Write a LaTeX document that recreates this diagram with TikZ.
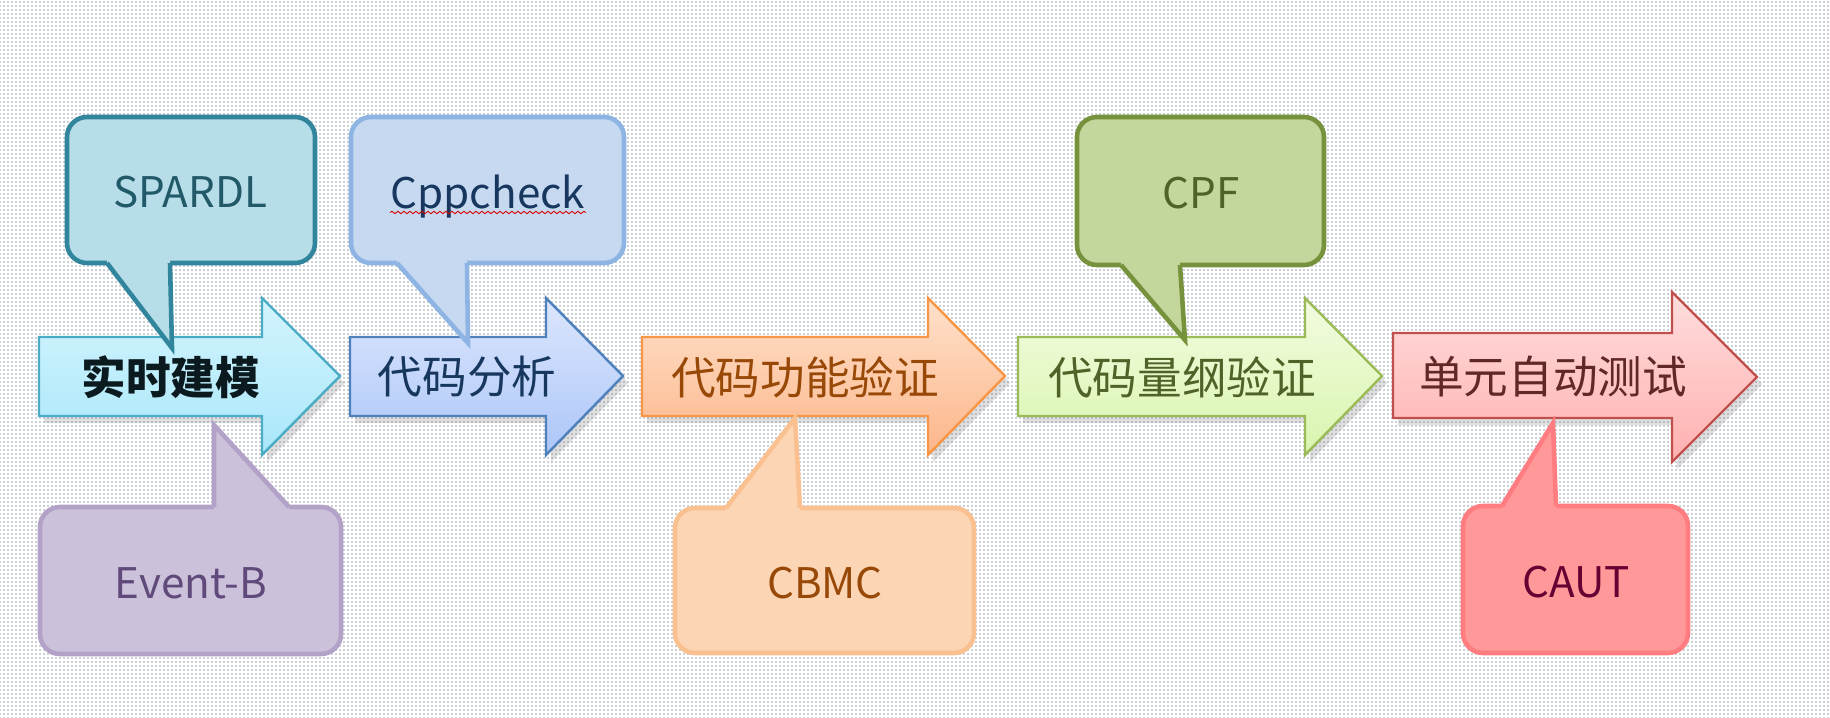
\documentclass[tikz,border=0pt]{standalone}
\usepackage{fontspec}
\setmainfont{Noto Sans CJK SC}
\usetikzlibrary{patterns.meta,shadows,decorations.pathmorphing}
% arrow colours
\definecolor{cyanA}{HTML}{D3F4FD}\definecolor{cyanB}{HTML}{A9E7FA}\definecolor{cyanD}{HTML}{4BACC6}
\definecolor{blueA}{HTML}{DCE6FD}\definecolor{blueB}{HTML}{ACC6F8}\definecolor{blueD}{HTML}{4F81BD}
\definecolor{orgA}{HTML}{FEE1CB}\definecolor{orgB}{HTML}{FDB68A}\definecolor{orgD}{HTML}{F79646}
\definecolor{grnA}{HTML}{F3FCE0}\definecolor{grnB}{HTML}{D8F5AE}\definecolor{grnD}{HTML}{9BBB59}
\definecolor{redA}{HTML}{FFDDDD}\definecolor{redB}{HTML}{FFB0B0}\definecolor{redD}{HTML}{C0504D}
% bubble colours
\definecolor{spaF}{HTML}{B7DDE8}\definecolor{spaD}{HTML}{31859C}\definecolor{spaT}{HTML}{215968}
\definecolor{cppF}{HTML}{C6D9F1}\definecolor{cppD}{HTML}{8EB4E3}\definecolor{cppT}{HTML}{17375E}
\definecolor{cpfF}{HTML}{C3D69B}\definecolor{cpfD}{HTML}{76923C}\definecolor{cpfT}{HTML}{4F6228}
\definecolor{evbF}{HTML}{CCC1DA}\definecolor{evbD}{HTML}{B3A2C7}\definecolor{evbT}{HTML}{604A7B}
\definecolor{cbmF}{HTML}{FCD5B5}\definecolor{cbmD}{HTML}{FAC090}\definecolor{cbmT}{HTML}{984807}
\definecolor{cauF}{HTML}{FF9898}\definecolor{cauD}{HTML}{FF7C80}\definecolor{cauT}{HTML}{660033}
\definecolor{dotc}{HTML}{1F3050}

\begin{document}
\begin{tikzpicture}[x=0.1mm,y=-0.1mm]
	\tikzstyle{stage}=[line width=0.7pt, drop shadow={opacity=0.25, shadow xshift=0.5mm, shadow yshift=-0.7mm}]
	\tikzstyle{bubble}=[line width=1.3pt, rounded corners=2mm]
	\tikzstyle{tail}=[line width=1.3pt, line join=miter]
	\tikzstyle{stagetext}=[inner sep=0pt, font=\fontsize{12.7}{15}\selectfont]
	\tikzstyle{tooltext}=[inner sep=0pt, anchor=base, font=\fontsize{12}{14}\selectfont]
	% dotted background
	\fill[white] (0,0) rectangle (1830,718);
	\fill[pattern={Dots[distance=0.4mm, radius=0.06mm]}, pattern color=dotc] (0,0) rectangle (1830,718);
	\useasboundingbox (0,0) rectangle (1830,718);

	% the five stages
	\shadedraw[stage, top color=cyanA, bottom color=cyanB, draw=cyanD]
	(39,337) -- (262,337) -- (262,298) -- (340,376) -- (262,455) -- (262,416) -- (39,416) -- cycle;
	\shadedraw[stage, top color=blueA, bottom color=blueB, draw=blueD]
	(350,337) -- (546,337) -- (546,298) -- (623,376) -- (546,455) -- (546,416) -- (350,416) -- cycle;
	\shadedraw[stage, top color=orgA, bottom color=orgB, draw=orgD]
	(642,337) -- (928,337) -- (928,298) -- (1005,376) -- (928,455) -- (928,416) -- (642,416) -- cycle;
	\shadedraw[stage, top color=grnA, bottom color=grnB, draw=grnD]
	(1018,337) -- (1305,337) -- (1305,298) -- (1382,376) -- (1305,455) -- (1305,416) -- (1018,416) -- cycle;
	\shadedraw[stage, top color=redA, bottom color=redB, draw=redD]
	(1393,333) -- (1672,333) -- (1672,292) -- (1757,377) -- (1672,462) -- (1672,418) -- (1393,418) -- cycle;

	\node[stagetext, text=black!85!cyanD, font=\fontsize{12.7}{15}\selectfont\bfseries] (model) at (171,377) {实时建模};
	\node[stagetext, text=cppT] (anal) at (467,377) {代码分析};
	\node[stagetext, text=cbmT] (func) at (805,377) {代码功能验证};
	\node[stagetext, text=cpfT] (dim) at (1182,377) {代码量纲验证};
	\node[stagetext, text=redD!50!black] (unit) at (1553,377) {单元自动测试};

	% tool bubbles above: box, then tail over the box border
	\draw[bubble, fill=spaF, draw=spaD] (67,117) rectangle (315,263);
	\fill[spaF] (107,257) -- (107,263) -- (172,348) -- (170,263) -- (170,257) -- cycle;
	\draw[tail, draw=spaD] (107,263) -- (172,348) -- (170,263);
	\draw[bubble, fill=cppF, draw=cppD] (351,117) rectangle (624,263);
	\fill[cppF] (397,257) -- (397,263) -- (468,343) -- (467,263) -- (467,257) -- cycle;
	\draw[tail, draw=cppD] (397,263) -- (468,343) -- (467,263);
	\draw[bubble, fill=cpfF, draw=cpfD] (1077,117) rectangle (1324,265);
	\fill[cpfF] (1121,259) -- (1121,265) -- (1185,340) -- (1180,265) -- (1180,259) -- cycle;
	\draw[tail, draw=cpfD] (1121,265) -- (1185,340) -- (1180,265);

	% tool bubbles below
	\draw[bubble, fill=evbF, draw=evbD] (40,507) rectangle (341,654);
	\fill[evbF] (214,513) -- (214,507) -- (214,425) -- (289,507) -- (289,513) -- cycle;
	\draw[tail, draw=evbD] (214,507) -- (214,425) -- (289,507);
	\draw[bubble, fill=cbmF, draw=cbmD] (675,508) rectangle (974,653);
	\fill[cbmF] (726,514) -- (726,508) -- (795,418) -- (800,508) -- (800,514) -- cycle;
	\draw[tail, draw=cbmD] (726,508) -- (795,418) -- (800,508);
	\draw[bubble, fill=cauF, draw=cauD] (1463,506) rectangle (1688,653);
	\fill[cauF] (1502,512) -- (1502,506) -- (1553,423) -- (1556,506) -- (1556,512) -- cycle;
	\draw[tail, draw=cauD] (1502,506) -- (1553,423) -- (1556,506);

	\node[tooltext, text=spaT] (spardl) at (190,207) {SPARDL};
	\node[tooltext, text=cppT] (cpp) at (488,208) {Cppcheck};
	\node[tooltext, text=cpfT] (cpf) at (1201,209) {CPF};
	\node[tooltext, text=evbT] (evb) at (191,598) {Event-B};
	\node[tooltext, text=cbmT] (cbmc) at (825,598) {CBMC};
	\node[tooltext, text=cauT] (caut) at (1576,597) {CAUT};
	% spell-check squiggle
	\draw[red!85!black, line width=0.25pt, decorate, decoration={snake, amplitude=0.12mm, segment length=0.6mm}]
	([yshift=-0.45mm]cpp.base west) -- ([yshift=-0.45mm]cpp.base east);
\end{tikzpicture}
\end{document}
